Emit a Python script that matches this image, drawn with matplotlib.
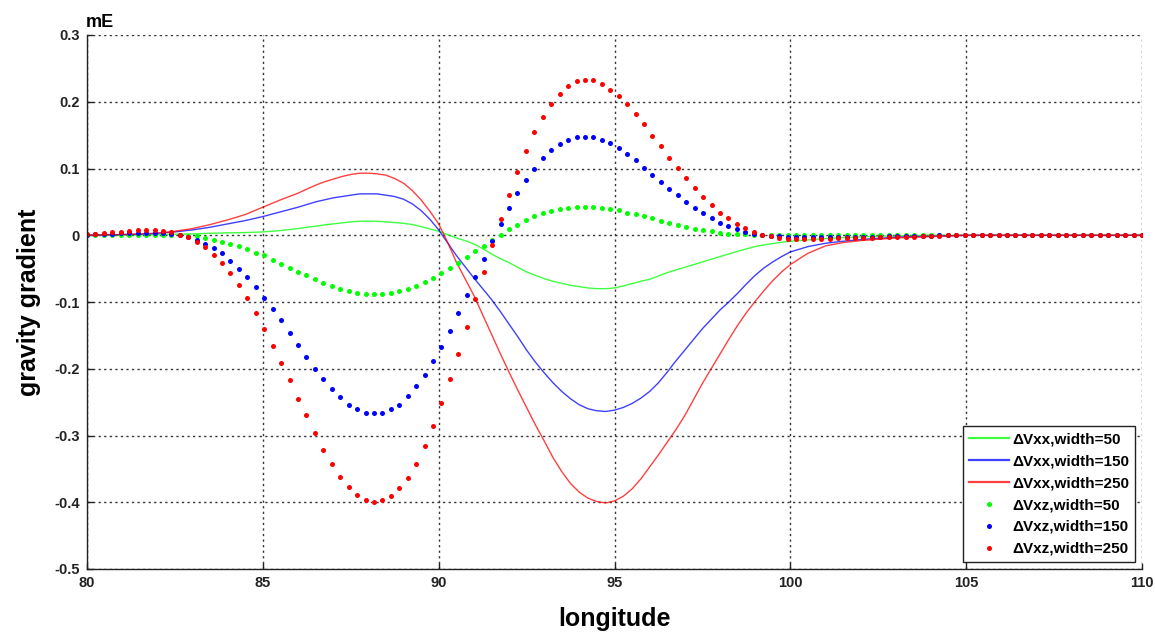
import numpy as np
import matplotlib
matplotlib.use("Agg")
import matplotlib.pyplot as plt

plt.rcParams['font.family'] = ['Liberation Sans', 'DejaVu Sans']

# ---------------- data ----------------
# line samples: 0.5 step at the flanks, 0.25 step through the anomaly
lon_lines = np.concatenate([np.arange(80, 86, 0.5), np.arange(86, 100, 0.25),
                            np.arange(100, 110.001, 0.5)])
lon_dots = np.round(80 + 0.24 * np.arange(126), 2)

vxx_50 = ([0, 0, 0.0005, 0.0005, 0.001, 0.0015, 0.002, 0.003, 0.0035, 0.004, 0.005, 0.007]
          + [0.010, 0.012, 0.0135, 0.0155, 0.017, 0.0185, 0.020, 0.021, 0.021, 0.021,
             0.020, 0.019, 0.018, 0.016, 0.013, 0.0095, 0.006, 0.001, -0.004, -0.008,
             -0.013, -0.020, -0.028, -0.035, -0.041, -0.048, -0.055, -0.060, -0.065, -0.069,
             -0.072, -0.075, -0.077, -0.079, -0.080, -0.080, -0.079, -0.076, -0.0725, -0.069,
             -0.066, -0.061, -0.056, -0.052, -0.048, -0.044, -0.040, -0.036, -0.032, -0.028,
             -0.024, -0.0205, -0.017, -0.0145, -0.0125, -0.0105]
          + [-0.009, -0.007, -0.005, -0.0035, -0.0025, -0.0015, -0.001, -0.0005,
             0, 0, 0, 0, 0, 0, 0, 0, 0, 0, 0, 0, 0])
vxx_150 = ([0, 0.0005, 0.001, 0.0015, 0.003, 0.005, 0.008, 0.012, 0.017, 0.022, 0.028, 0.035]
           + [0.042, 0.046, 0.050, 0.053, 0.056, 0.058, 0.060, 0.062, 0.062, 0.062,
              0.060, 0.058, 0.054, 0.047, 0.037, 0.024, 0.008, -0.011, -0.030, -0.047,
              -0.064, -0.080, -0.096, -0.114, -0.133, -0.152, -0.172, -0.190, -0.206, -0.221,
              -0.234, -0.245, -0.254, -0.260, -0.263, -0.264, -0.262, -0.258, -0.252, -0.244,
              -0.234, -0.221, -0.205, -0.188, -0.172, -0.156, -0.140, -0.126, -0.112, -0.100,
              -0.087, -0.073, -0.060, -0.049, -0.040, -0.032]
           + [-0.025, -0.017, -0.012, -0.009, -0.0065, -0.0045, -0.003, -0.002, -0.0015, -0.001,
              0, 0, 0, 0, 0, 0, 0, 0, 0, 0, 0])
vxx_250 = ([0, 0.0005, 0.001, 0.002, 0.003, 0.006, 0.010, 0.016, 0.023, 0.031, 0.042, 0.053]
           + [0.063, 0.069, 0.075, 0.080, 0.084, 0.088, 0.091, 0.093, 0.093, 0.092,
              0.090, 0.085, 0.078, 0.067, 0.053, 0.036, 0.017, -0.010, -0.040, -0.065,
              -0.090, -0.119, -0.148, -0.177, -0.205, -0.232, -0.258, -0.284, -0.308, -0.333,
              -0.354, -0.372, -0.385, -0.394, -0.399, -0.401, -0.398, -0.391, -0.380, -0.365,
              -0.347, -0.329, -0.310, -0.291, -0.270, -0.246, -0.222, -0.200, -0.178, -0.156,
              -0.135, -0.116, -0.099, -0.083, -0.068, -0.055]
           + [-0.044, -0.027, -0.016, -0.011, -0.008, -0.006, -0.004, -0.003, -0.002, -0.001,
              0, 0, 0, 0, 0, 0, 0, 0, 0, 0, 0])

vxz_50 = ([0, 0, 0.0005, 0.0005, 0.001, 0.001, 0.001, 0.001, 0.001, 0.0005,
           0.0005, 0, -0.0005, -0.0015, -0.004, -0.0065, -0.010, -0.0125, -0.0165, -0.021,
           -0.026, -0.030, -0.0365, -0.0425, -0.049, -0.055, -0.059, -0.0655, -0.071, -0.076,
           -0.081, -0.084, -0.0865, -0.0885, -0.0885, -0.0885, -0.0865, -0.084, -0.081, -0.076,
           -0.070, -0.0635, -0.0565, -0.0485, -0.041, -0.0325, -0.0235, -0.0155, -0.0075, 0.001,
           0.009, 0.016, 0.0225, 0.0285, 0.0335, 0.0365, 0.039, 0.041, 0.0425, 0.0425,
           0.0425, 0.041, 0.039, 0.0375, 0.034, 0.0315, 0.0285, 0.0255, 0.022, 0.019,
           0.016, 0.013, 0.010, 0.0085, 0.006, 0.004, 0.0025, 0.002, 0.0015, 0.001,
           0.0005] + [0.0] * 45)
vxz_150 = ([0.001, 0.0015, 0.002, 0.0025, 0.003, 0.0035, 0.004, 0.004, 0.004, 0.0035,
            0.0025, 0.001, -0.002, -0.0065, -0.0125, -0.019, -0.027, -0.038, -0.050, -0.0625,
            -0.077, -0.094, -0.111, -0.127, -0.146, -0.164, -0.182, -0.200, -0.216, -0.230,
            -0.243, -0.254, -0.261, -0.266, -0.267, -0.266, -0.261, -0.254, -0.241, -0.226,
            -0.210, -0.188, -0.167, -0.143, -0.116, -0.090, -0.0625, -0.036, -0.009, 0.0165,
            0.041, 0.0635, 0.0835, 0.100, 0.115, 0.127, 0.136, 0.142, 0.147, 0.147,
            0.147, 0.142, 0.138, 0.130, 0.121, 0.112, 0.101, 0.091, 0.080, 0.070,
            0.060, 0.050, 0.041, 0.0335, 0.0265, 0.019, 0.0135, 0.009, 0.005, 0.0025,
            0.0005, -0.0005, -0.001, -0.0025, -0.0025, -0.0025, -0.0025, -0.0025, -0.0025, -0.0025,
            -0.0025, -0.0025, -0.0025, -0.002, -0.002, -0.0015, -0.0015, -0.001, -0.001, -0.0005,
            -0.0005] + [0.0] * 25)
vxz_250 = ([0.0025, 0.0025, 0.004, 0.005, 0.005, 0.0065, 0.0085, 0.0085, 0.0085, 0.0065,
            0.005, 0.001, -0.0025, -0.010, -0.018, -0.030, -0.042, -0.057, -0.075, -0.094,
            -0.116, -0.140, -0.166, -0.191, -0.217, -0.245, -0.270, -0.296, -0.321, -0.342,
            -0.362, -0.377, -0.389, -0.396, -0.399, -0.397, -0.391, -0.379, -0.363, -0.342,
            -0.316, -0.286, -0.252, -0.216, -0.178, -0.137, -0.096, -0.055, -0.015, 0.024,
            0.060, 0.095, 0.126, 0.154, 0.177, 0.197, 0.212, 0.223, 0.231, 0.232,
            0.232, 0.227, 0.218, 0.209, 0.196, 0.182, 0.167, 0.149, 0.133, 0.116,
            0.101, 0.086, 0.071, 0.057, 0.045, 0.034, 0.026, 0.0175, 0.011, 0.005,
            0.001, -0.001, -0.004, -0.006, -0.006, -0.006, -0.006, -0.005, -0.005, -0.004,
            -0.004, -0.004, -0.004, -0.004, -0.003, -0.003, -0.003, -0.002, -0.002, -0.001,
            -0.001, -0.001] + [0.0] * 24)

x_ticks = [80, 85, 90, 95, 100, 105, 110]
y_ticks = [-0.5, -0.4, -0.3, -0.2, -0.1, 0, 0.1, 0.2, 0.3]
y_tick_labels = ['-0.5', '-0.4', '-0.3', '-0.2', '-0.1', '0', '0.1', '0.2', '0.3']

line_labels = ['\u0394Vxx,width=50', '\u0394Vxx,width=150', '\u0394Vxx,width=250']
dot_labels = ['\u0394Vxz,width=50', '\u0394Vxz,width=150', '\u0394Vxz,width=250']
colors = ['#00ff00', '#0000ff', '#ff0000']

# ---------------- figure ----------------
fig = plt.figure(figsize=(11.55, 6.35), dpi=100)
ax = fig.add_axes([87 / 1155, 1 - 569 / 635, (1142 - 87) / 1155, (569 - 35) / 635])

for y, c, lab in zip([vxx_50, vxx_150, vxx_250], colors, line_labels):
    ax.plot(lon_lines, y, '-', color=c, lw=1.0, alpha=0.75, label=lab)
for y, c, lab in zip([vxz_50, vxz_150, vxz_250], colors, dot_labels):
    ax.plot(lon_dots, y, 'o', color=c, ms=3.6, mew=0, label=lab, linestyle='none')

ax.set_xlim(80, 110)
ax.set_ylim(-0.5, 0.3)
ax.set_xticks(x_ticks)
ax.set_xticklabels([str(t) for t in x_ticks], fontweight='bold', fontsize=10.5)
ax.set_yticks(y_ticks)
ax.set_yticklabels(y_tick_labels, fontweight='bold', fontsize=10.5)
ax.tick_params(direction='in', length=4, width=1, pad=5, colors='#222222')

ax.grid(True, color='#333333', linestyle=(0, (1.6, 2.4)), linewidth=1.0)
for s in ['top', 'right']:
    ax.spines[s].set_visible(False)
for s in ['left', 'bottom']:
    ax.spines[s].set_linewidth(1.0)
    ax.spines[s].set_color('#222222')

ax.set_xlabel('longitude', fontsize=18, fontweight='bold', labelpad=12)
ax.set_ylabel('gravity gradient', fontsize=18, fontweight='bold', labelpad=10)
fig.text(86 / 1155, 1 - 27 / 635, 'mE', fontsize=13, fontweight='bold', ha='left', va='baseline')

leg = ax.legend(loc='lower right', bbox_to_anchor=(0.9934, 0.0131), borderaxespad=0,
                prop={'weight': 'bold', 'size': 11}, handlelength=2.6, handletextpad=0.2,
                labelspacing=0.52, borderpad=0.4, fancybox=False, framealpha=1,
                markerscale=1.0, numpoints=1)
leg.get_frame().set_edgecolor('#222222')
leg.get_frame().set_linewidth(1.0)
for h in leg.get_lines()[:3]:
    h.set_linewidth(1.6)

fig.savefig('out.png', dpi=100)
